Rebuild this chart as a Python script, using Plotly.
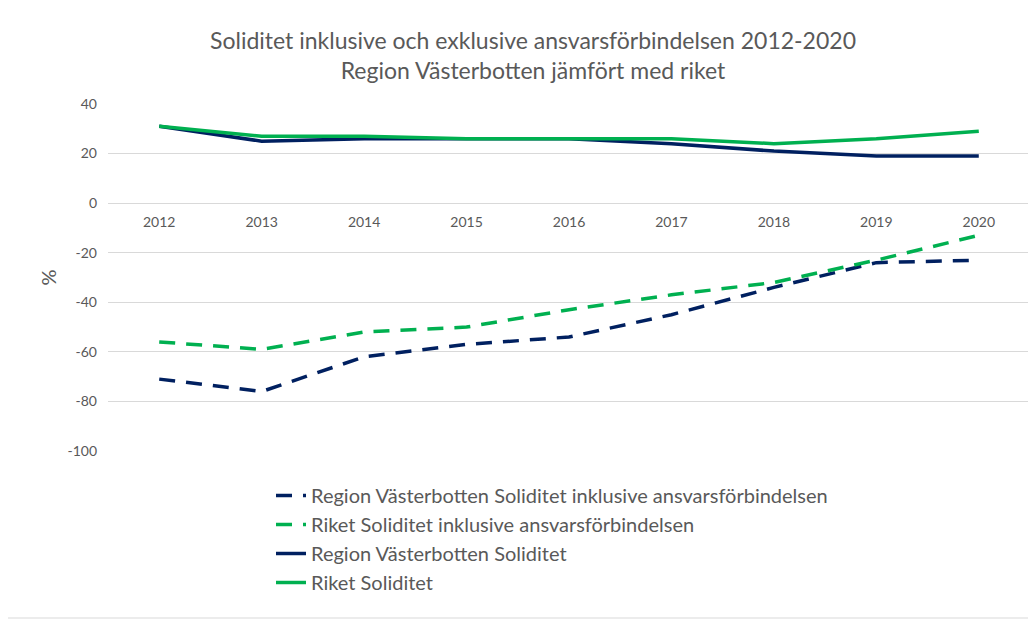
import plotly.graph_objects as go

years = ["2012", "2013", "2014", "2015", "2016", "2017", "2018", "2019", "2020"]
region_inkl = [-71, -76, -62, -57, -54, -45, -34, -24, -23]
riket_inkl = [-56, -59, -52, -50, -43, -37, -32, -23, -13]
region_sol = [31, 25, 26, 26, 26, 24, 21, 19, 19]
riket_sol = [31, 27, 27, 26, 26, 26, 24, 26, 29]
y_ticks = [-100, -80, -60, -40, -20, 0, 20, 40]
y_tick_labels = [str(v) for v in y_ticks]

names = [
    "Region Västerbotten Soliditet inklusive ansvarsförbindelsen",
    "Riket Soliditet inklusive ansvarsförbindelsen",
    "Region Västerbotten Soliditet",
    "Riket Soliditet",
]

NAVY = "#002060"
GREEN = "#00b050"
GREY = "#595959"
FONT = "Lato"

fig = go.Figure()
series = [
    (region_inkl, NAVY, "16px,11px"),
    (riket_inkl, GREEN, "16px,11px"),
    (region_sol, NAVY, "solid"),
    (riket_sol, GREEN, "solid"),
]
for (vals, col, dash), nm in zip(series, names):
    fig.add_trace(go.Scatter(
        x=years, y=vals, name=nm, mode="lines",
        line=dict(color=col, width=3.5, dash=dash),
    ))

OFF = 8  # page body margin
W, H = 1036 - OFF, 621 - OFF
L, T = 108 - OFF, 104 - OFF
R = W - (1030 - OFF)
B = H - (451 - OFF)
pw, ph = W - L - R, H - T - B

fig.update_layout(
    width=W, height=H,
    margin=dict(l=L, r=R, t=T, b=B, autoexpand=False),
    paper_bgcolor="white", plot_bgcolor="white",
    font=dict(family=FONT, color=GREY, size=14),
    title=dict(
        text="Soliditet inklusive och exklusive ansvarsförbindelsen 2012-2020<br>Region Västerbotten jämfört med riket",
        x=(533 - OFF) / W, xref="container", xanchor="center",
        y=1 - 41 / H, yref="container", yanchor="top",
        font=dict(family=FONT, size=23, color=GREY),
    ),
    xaxis=dict(
        type="category", anchor="free", position=100 / 140,
        range=[-0.5, 8.5], automargin=False,
        showgrid=False, showline=False, ticks="", zeroline=False,
        ticklabelstandoff=9,
        tickfont=dict(size=14, color=GREY),
    ),
    yaxis=dict(
        range=[-100, 40], tickmode="array", tickvals=y_ticks, ticktext=y_tick_labels,
        automargin=False,
        showgrid=True, gridcolor="#d9d9d9", gridwidth=1,
        zeroline=True, zerolinecolor="#d9d9d9", zerolinewidth=1,
        showline=False, ticks="", ticklabelstandoff=10,
        tickfont=dict(size=14, color=GREY),
        title=dict(text="%", font=dict(size=20, color=GREY), standoff=5),
    ),
    legend=dict(
        x=(271 - 108) / pw, xanchor="left",
        y=(451 - 476) / ph, yanchor="top",
        font=dict(size=20, color=GREY, family=FONT),
        bgcolor="rgba(0,0,0,0)", tracegroupgap=0,
    ),
    showlegend=True,
)

fig.add_shape(
    type="rect", xref="paper", yref="paper",
    x0=-(108 - 1) / pw, x1=(1033 - 108) / pw,
    y0=(451 - 618) / ph, y1=(451 - 1) / ph,
    line=dict(color="#d9d9d9", width=1), fillcolor="rgba(0,0,0,0)", layer="below",
)

fig.write_html("out.html")
